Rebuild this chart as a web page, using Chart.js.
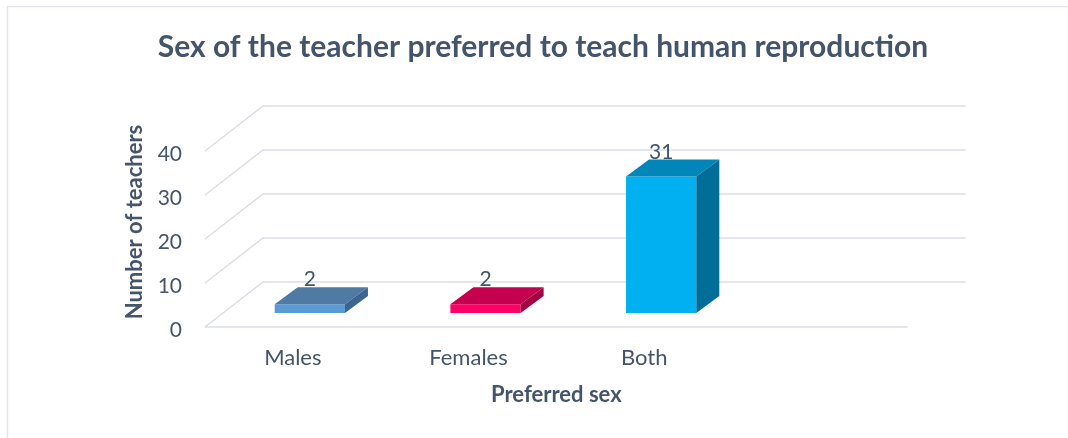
<!DOCTYPE html>
<html>
<head>
<meta charset="utf-8">
<script src="https://cdn.jsdelivr.net/npm/chart.js@4.4.1/dist/chart.umd.min.js"></script>
<style>
  html, body { margin: 0; padding: 0; background: #fff; }
  #wrap { width: 1068px; height: 438px; position: relative; }
</style>
</head>
<body>
<div id="wrap"><canvas id="chart"></canvas></div>
<script>
// ── DATA ─────────────────────────────────────────────────────────────────────
const categories = ['Males', 'Females', 'Both'];
const teachers   = [2, 2, 31];
const yTicks     = [0, 10, 20, 30, 40];

// ── STYLE ────────────────────────────────────────────────────────────────────
const FONT      = 'Lato, "Open Sans", sans-serif';
const TEXT      = '#44546a';
const GRID      = '#dadee4';
const frontCols = ['#5b9bd5', '#ff0066', '#00b0f0'];
const topCols   = ['#4f7aa4', '#c4004f', '#0086b8'];
const sideCols  = ['#3c6490', '#a30044', '#006e98'];

const WALL  = { dx: 58, dy: -45 };  // back wall offset from the front edge
const SHIFT = { dx: 17, dy: -14 };  // bars sit part way into the floor
const DEPTH = { dx: 23, dy: -17 };  // bar depth (top / side faces)

function slotWidth(x) {
  return x.getPixelForValue(1) - x.getPixelForValue(0);
}

const depthPlugin = {
  id: 'depth3d',
  beforeDraw(chart) {
    const { ctx } = chart;
    ctx.save();
    ctx.strokeStyle = '#e2e5ea';
    ctx.lineWidth = 1.5;
    ctx.beginPath();
    ctx.moveTo(7.5, 440);
    ctx.lineTo(7.5, 6.5);
    ctx.lineTo(1070, 6.5);
    ctx.stroke();
    ctx.restore();
  },
  beforeDatasetsDraw(chart) {
    const { ctx, chartArea, scales: { x, y } } = chart;
    const left = chartArea.left;
    const right = left + slotWidth(x) * (categories.length + 1);
    ctx.save();
    ctx.strokeStyle = GRID;
    ctx.lineWidth = 1.5;
    yTicks.forEach(v => {
      const py = y.getPixelForValue(v);
      ctx.beginPath();
      ctx.moveTo(left, py);
      ctx.lineTo(left + WALL.dx, py + WALL.dy);
      ctx.lineTo(right + WALL.dx, py + WALL.dy);
      ctx.stroke();
    });
    const p0 = y.getPixelForValue(0);
    ctx.beginPath();
    ctx.moveTo(left, p0);
    ctx.lineTo(right, p0);
    ctx.stroke();
    ctx.restore();
  },
  beforeDatasetDraw(chart) {
    chart.ctx.save();
    chart.ctx.translate(SHIFT.dx, SHIFT.dy);
  },
  afterDatasetDraw(chart) {
    chart.ctx.restore();
  },
  afterDatasetsDraw(chart) {
    const { ctx } = chart;
    const meta = chart.getDatasetMeta(0);
    ctx.save();
    meta.data.forEach((bar, i) => {
      const { x, y, base, width } = bar.getProps(['x', 'y', 'base', 'width'], true);
      const l = x - width / 2 + SHIFT.dx, r = x + width / 2 + SHIFT.dx;
      const t = y + SHIFT.dy, b = base + SHIFT.dy;
      // top face
      ctx.fillStyle = topCols[i];
      ctx.beginPath();
      ctx.moveTo(l, t);
      ctx.lineTo(l + DEPTH.dx, t + DEPTH.dy);
      ctx.lineTo(r + DEPTH.dx, t + DEPTH.dy);
      ctx.lineTo(r, t);
      ctx.closePath();
      ctx.fill();
      // side face
      ctx.fillStyle = sideCols[i];
      ctx.beginPath();
      ctx.moveTo(r, t);
      ctx.lineTo(r + DEPTH.dx, t + DEPTH.dy);
      ctx.lineTo(r + DEPTH.dx, b + DEPTH.dy);
      ctx.lineTo(r, b);
      ctx.closePath();
      ctx.fill();
      // value label
      ctx.fillStyle = TEXT;
      ctx.font = '21px ' + FONT;
      ctx.textAlign = 'center';
      ctx.textBaseline = 'alphabetic';
      ctx.fillText(String(teachers[i]), x + SHIFT.dx, t + DEPTH.dy - 1);
    });
    ctx.restore();
  },
  afterDraw(chart) {
    const { ctx, chartArea, scales: { x } } = chart;
    const right = chartArea.left + slotWidth(x) * (categories.length + 1);
    ctx.save();
    ctx.fillStyle = TEXT;
    ctx.font = 'bold 22px ' + FONT;
    ctx.textAlign = 'center';
    ctx.textBaseline = 'middle';
    ctx.fillText('Preferred sex', (chartArea.left + right) / 2, 395);
    ctx.translate(135, 222);
    ctx.rotate(-Math.PI / 2);
    ctx.fillText('Number of teachers', 0, 0);
    ctx.restore();
  }
};

new Chart(document.getElementById('chart'), {
  type: 'bar',
  data: {
    labels: categories,
    datasets: [{
      data: teachers,
      backgroundColor: frontCols,
      borderWidth: 0,
      barPercentage: 0.4,
      categoryPercentage: 1,
    }],
  },
  options: {
    responsive: true,
    maintainAspectRatio: false,
    animation: false,
    layout: { padding: { left: 18, right: 0, top: 0, bottom: 0 } },
    plugins: {
      legend: { display: false },
      tooltip: { enabled: false },
      title: {
        display: true,
        text: 'Sex of the teacher preferred to teach human reproduction',
        color: TEXT,
        font: { family: FONT, size: 30, weight: 'bold', lineHeight: 1.2 },
        padding: { top: 29, bottom: 86 },
      },
    },
    scales: {
      x: {
        grid: { display: false },
        border: { display: false },
        ticks: { color: TEXT, font: { family: FONT, size: 22 }, padding: 10 },
        afterFit: s => { s.height = 111; },
      },
      y: {
        min: yTicks[0],
        max: yTicks[yTicks.length - 1],
        grid: { display: false, drawTicks: false },
        border: { display: false },
        ticks: { color: TEXT, font: { family: FONT, size: 21 }, padding: 23, labelOffset: 3 },
        afterBuildTicks: s => { s.ticks = yTicks.map(v => ({ value: v })); },
        afterFit: s => { s.width = 187; },
      },
      pad: {
        type: 'linear',
        position: 'right',
        grid: { display: false },
        border: { display: false },
        ticks: { display: false },
        afterFit: s => { s.width = 336; },
      },
    },
  },
  plugins: [depthPlugin],
});
</script>
</body>
</html>
